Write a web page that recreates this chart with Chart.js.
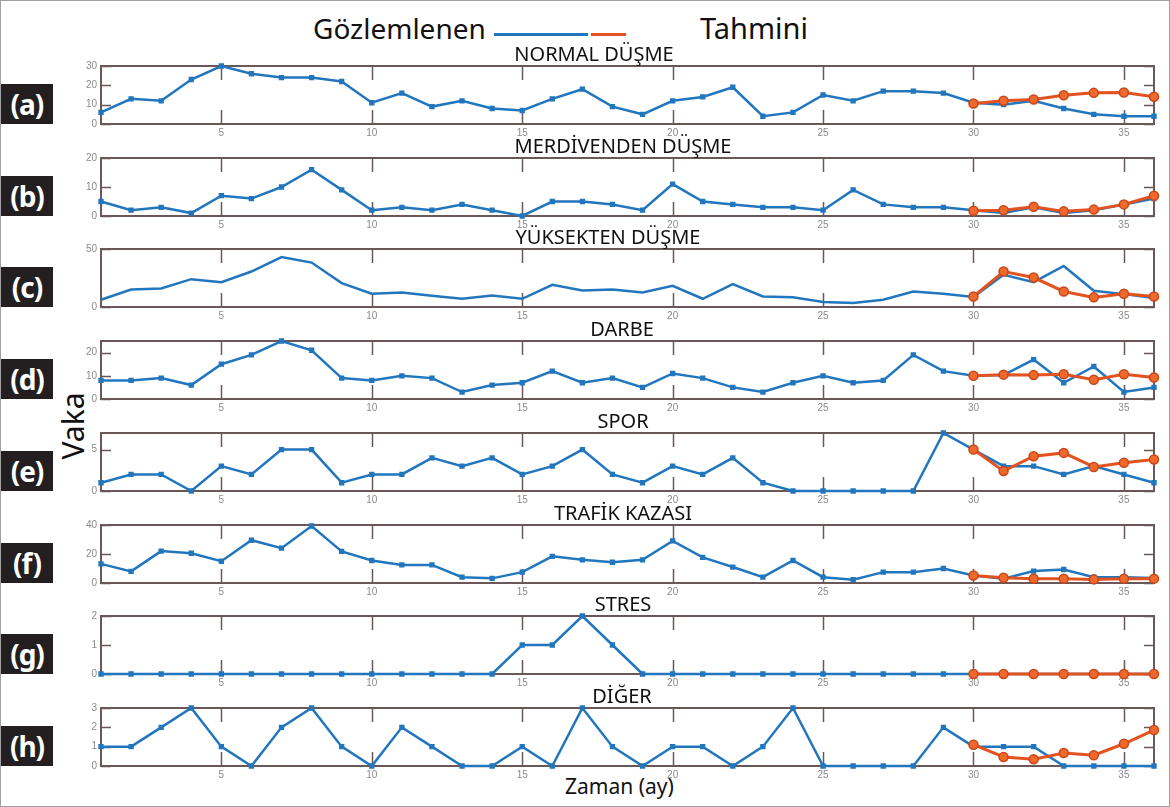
<!DOCTYPE html>
<html lang="tr">
<head>
<meta charset="utf-8">
<title>Gözlemlenen ve tahmini vakalar</title>
<script src="https://cdn.jsdelivr.net/npm/chart.js@4.4.1/dist/chart.umd.min.js"></script>
<style>
  html, body { margin: 0; padding: 0; background: #fff; }
  #page {
    position: relative; width: 1168px; height: 805px;
    border: 1px solid #a0a0a0; overflow: hidden;
    font-family: "Noto Sans", "Open Sans", sans-serif; color: #111;
  }
  .panel { position: absolute; left: 60px; }
  .title { position: absolute; font-size: 20px; line-height: 1; white-space: nowrap; transform: translate(-50%, -50%); }
  .tag {
    position: absolute; left: 0; width: 52px; height: 40px;
    background: #231f20; color: #fff; font-weight: bold; font-size: 28px;
    display: flex; align-items: center; justify-content: center; letter-spacing: -1px;
  }
  .legend-text { position: absolute; top: 13px; font-size: 28px; line-height: 1; }
  .legend-line { position: absolute; height: 3px; }
  .axis-label { position: absolute; line-height: 1; white-space: nowrap; }
</style>
</head>
<body>
<div id="page">
  <div class="legend-text" style="left:312px">Gözlemlenen</div>
  <div class="legend-line" style="left:493px; top:32px; width:94px; background:#2176bd"></div>
  <div class="legend-line" style="left:590px; top:32px; width:35px; background:#e2531f"></div>
  <div class="legend-text" style="left:699px; font-size:29px; top:12px">Tahmini</div>
  <div class="axis-label" style="left:38px; top:410px; font-size:30px; transform:rotate(-90deg)">Vaka</div>
  <div class="axis-label" style="left:564px; top:775px; font-size:21px">Zaman (ay)</div>
</div>

<script>
// Aylar (x ekseni) ve eksen işaretleri
const months = [1, 2, 3, 4, 5, 6, 7, 8, 9, 10, 11, 12, 13, 14, 15, 16, 17, 18,
                19, 20, 21, 22, 23, 24, 25, 26, 27, 28, 29, 30, 31, 32, 33, 34, 35, 36];
const forecastMonths = [30, 31, 32, 33, 34, 35, 36];
const xTicks = [5, 10, 15, 20, 25, 30, 35];

const panelTitles = ['NORMAL DÜŞME', 'MERDİVENDEN DÜŞME', 'YÜKSEKTEN DÜŞME', 'DARBE',
                     'SPOR', 'TRAFİK KAZASI', 'STRES', 'DİĞER'];
const panelTags = ['(a)', '(b)', '(c)', '(d)', '(e)', '(f)', '(g)', '(h)'];

// (a) Normal düşme
const normalObserved = [6, 13, 12, 23, 30, 26, 24, 24, 22, 11, 16, 9, 12, 8, 7, 13, 18, 9,
                        5, 12, 14, 19, 4, 6, 15, 12, 17, 17, 16, 11, 10, 12, 8, 5, 4, 4];
const normalForecast = [10.6, 12, 12.7, 14.9, 16.1, 16.3, 14.1];
const normalTicks = [0, 10, 20, 30];

// (b) Merdivenden düşme
const stairsObserved = [5, 2, 3, 1, 7, 6, 10, 16, 9, 2, 3, 2, 4, 2, 0, 5, 5, 4,
                        2, 11, 5, 4, 3, 3, 2, 9, 4, 3, 3, 2, 1, 3, 1, 2, 4, 6];
const stairsForecast = [1.8, 2, 3.2, 1.6, 2.2, 4, 7];
const stairsTicks = [0, 10, 20];

// (c) Yüksekten düşme
const heightObserved = [6.3, 15, 16, 24, 21.4, 30.6, 43, 38.3, 20.6, 11.4, 12.6, 9.7, 7.1, 10, 7.1, 19.1, 14.3, 15,
                        12.6, 18.3, 7.1, 19.7, 9.1, 8.3, 4.3, 3.4, 6.3, 13.4, 11.4, 8.6, 27.7, 21.4, 35.4, 14, 11.1, 7.7];
const heightForecast = [9.1, 30.6, 25.4, 13.4, 8.3, 11.4, 9.1];
const heightTicks = [0, 50];

// (d) Darbe
const impactObserved = [8, 8, 9, 6, 15, 19, 25, 21, 9, 8, 10, 9, 3, 6, 7, 12, 7, 9,
                        5, 11, 9, 5, 3, 7, 10, 7, 8, 19, 12, 10, 10.3, 17, 7, 14, 3, 5];
const impactForecast = [10, 10.5, 10.3, 10.7, 8.3, 10.7, 9.3];
const impactTicks = [0, 10, 20];

// (e) Spor
const sportObserved = [1, 2, 2, 0, 3, 2, 5, 5, 1, 2, 2, 4, 3, 4, 2, 3, 5, 2,
                       1, 3, 2, 4, 1, 0, 0, 0, 0, 0, 7, 5, 3, 3, 2, 3, 2, 1];
const sportForecast = [5, 2.4, 4.2, 4.6, 2.9, 3.4, 3.8];
const sportTicks = [0, 5];

// (f) Trafik kazası
const trafficObserved = [13.2, 8, 22, 20.5, 15, 29.5, 24, 39.3, 21.8, 15.5, 12.5, 12.5, 4, 3.2, 7.5, 18.4, 16, 14.3,
                         16, 29, 17.7, 11, 4, 15.5, 4, 2.3, 7.5, 7.5, 10, 5.2, 3, 8.2, 9.3, 4, 4, 3.4];
const trafficForecast = [5.2, 3.6, 3, 3, 2.5, 3, 3];
const trafficTicks = [0, 20, 40];

// (g) Stres
const stressObserved = [0, 0, 0, 0, 0, 0, 0, 0, 0, 0, 0, 0, 0, 0, 1, 1, 2, 1,
                        0, 0, 0, 0, 0, 0, 0, 0, 0, 0, 0, 0, 0, 0, 0, 0, 0, 0];
const stressForecast = [0, 0, 0, 0, 0, 0, 0];
const stressTicks = [0, 1, 2];

// (h) Diğer
const otherObserved = [1, 1, 2, 3, 1, 0, 2, 3, 1, 0, 2, 1, 0, 0, 1, 0, 3, 1,
                       0, 1, 1, 0, 1, 3, 0, 0, 0, 0, 2, 1, 1, 1, 0, 0, 0, 0];
const otherForecast = [1.1, 0.47, 0.35, 0.67, 0.56, 1.15, 1.86];
const otherTicks = [0, 1, 2, 3];

const BLUE = '#2176bd';
const ORANGE = '#e2531f';
const FRAME = '#6a5858';

document.addEventListener('DOMContentLoaded', function () {
    const page = document.getElementById('page');

    const panels = [
        { observed: normalObserved, forecast: normalForecast, yMax: 30, ticks: normalTicks, titleX: 593 },
        { observed: stairsObserved, forecast: stairsForecast, yMax: 20, ticks: stairsTicks, titleX: 622 },
        { observed: heightObserved, forecast: heightForecast, yMax: 50, ticks: heightTicks, titleX: 607, noMarkers: true },
        { observed: impactObserved, forecast: impactForecast, yMax: 25, ticks: impactTicks, titleX: 621 },
        { observed: sportObserved, forecast: sportForecast, yMax: 7, ticks: sportTicks, titleX: 622 },
        { observed: trafficObserved, forecast: trafficForecast, yMax: 40, ticks: trafficTicks, titleX: 622 },
        { observed: stressObserved, forecast: stressForecast, yMax: 2, ticks: stressTicks, titleX: 622 },
        { observed: otherObserved, forecast: otherForecast, yMax: 3, ticks: otherTicks, titleX: 621 }
    ];

    function toPoints(xs, ys) {
        return xs.map((m, i) => ({ x: m, y: ys[i] }));
    }

    // MATLAB tarzı kutu ve içe dönük tik çizgileri
    const framePlugin = {
        id: 'frame',
        beforeDatasetsDraw(chart) {
            const { ctx, chartArea: a, scales: { x, y } } = chart;
            ctx.save();
            ctx.strokeStyle = FRAME;
            ctx.lineWidth = 2;
            ctx.strokeRect(a.left, a.top, a.right - a.left, a.bottom - a.top);
            ctx.lineWidth = 1.5;
            ctx.beginPath();
            xTicks.forEach(v => {
                const px = Math.round(x.getPixelForValue(v)) + 0.5;
                ctx.moveTo(px, a.bottom); ctx.lineTo(px, a.bottom - 14);
                ctx.moveTo(px, a.top); ctx.lineTo(px, a.top + 14);
            });
            y.ticks.forEach(t => {
                const py = Math.round(y.getPixelForValue(t.value)) + 0.5;
                ctx.moveTo(a.left, py); ctx.lineTo(a.left + 10, py);
                ctx.moveTo(a.right, py); ctx.lineTo(a.right - 10, py);
            });
            ctx.stroke();
            ctx.restore();
        }
    };

    panels.forEach((p, i) => {
        const plotTop = Math.round(65 + i * 91.7);

        const title = document.createElement('div');
        title.className = 'title';
        title.textContent = panelTitles[i];
        title.style.left = p.titleX + 'px';
        title.style.top = (plotTop - 12) + 'px';

        const tag = document.createElement('div');
        tag.className = 'tag';
        tag.textContent = panelTags[i];
        tag.style.top = (plotTop + 18) + 'px';

        // padding top 10 keeps room for the top y label, so the plot box starts at plotTop
        const canvas = document.createElement('canvas');
        canvas.className = 'panel';
        canvas.width = 1110;
        canvas.height = 86;
        canvas.style.top = (plotTop - 10) + 'px';

        page.appendChild(canvas);
        page.appendChild(title);
        page.appendChild(tag);

        new Chart(canvas, {
            type: 'line',
            data: {
                datasets: [{
                    label: 'Tahmini',
                    data: toPoints(forecastMonths, p.forecast),
                    borderColor: ORANGE,
                    backgroundColor: '#f0692c',
                    pointBorderColor: '#c9471a',
                    borderWidth: 3,
                    pointRadius: 4.5,
                    pointBorderWidth: 1.5,
                    order: 0,
                    clip: false
                }, {
                    label: 'Gözlemlenen',
                    data: toPoints(months, p.observed),
                    borderColor: BLUE,
                    backgroundColor: BLUE,
                    borderWidth: 2.5,
                    pointStyle: 'rect',
                    pointRadius: p.noMarkers ? 0 : 2,
                    order: 1,
                    clip: false
                }]
            },
            options: {
                responsive: false,
                animation: false,
                devicePixelRatio: 1,
                layout: { padding: { top: 10, right: 17, left: 0, bottom: 0 } },
                plugins: { legend: { display: false }, tooltip: { enabled: false } },
                scales: {
                    x: {
                        type: 'linear', min: 1, max: 36,
                        grid: { display: false, drawTicks: false },
                        border: { display: false },
                        afterBuildTicks: s => { s.ticks = xTicks.map(v => ({ value: v })); },
                        afterFit: s => { s.height = 18; },
                        ticks: { color: '#8a8a8a', font: { size: 10 }, padding: 3, maxRotation: 0 }
                    },
                    y: {
                        min: 0, max: p.yMax,
                        grid: { display: false, drawTicks: false },
                        border: { display: false },
                        afterBuildTicks: s => { s.ticks = p.ticks.map(v => ({ value: v })); },
                        afterFit: s => { s.width = 40; },
                        ticks: { color: '#8a8a8a', font: { size: 10 }, padding: 4 }
                    }
                }
            },
            plugins: [framePlugin]
        });
    });
});
</script>
</body>
</html>
